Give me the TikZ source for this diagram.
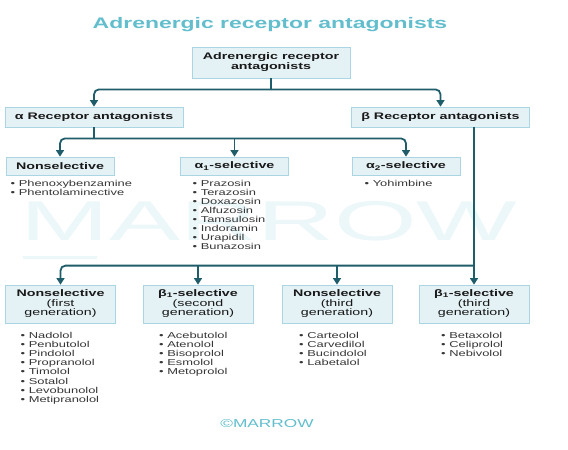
\documentclass[tikz,border=0pt]{standalone}
\usepackage{fontspec}
\setmainfont{Liberation Sans}[FakeStretch=1.5]
\newfontfamily\marrowmarkfont{Liberation Sans}[FakeStretch=1.9]
\usepackage{tikz}
\usetikzlibrary{arrows.meta}
\definecolor{MarrowTeal}{RGB}{32, 93, 106}
\definecolor{MarrowFill}{RGB}{228, 242, 246}
\definecolor{MarrowEdge}{RGB}{170, 213, 226}
\definecolor{MarrowTitle}{RGB}{98, 190, 205}
\definecolor{MarrowMark}{RGB}{236, 247, 250}
\definecolor{MarrowInk}{RGB}{25, 25, 25}
\definecolor{MarrowGrey}{RGB}{55, 55, 55}
\newcommand{\boxfont}{\fontsize{9.5}{9.5}\selectfont}
\newcommand{\drugfont}{\fontsize{8.6}{9.1}\selectfont}

\begin{document}
\begin{tikzpicture}[x=1pt, y=-1pt,
    catbox/.style={draw=MarrowEdge, line width=0.8pt, fill=MarrowFill, text=MarrowInk, font=\boxfont, inner sep=1pt},
    topbox/.style={catbox, minimum width=158pt, minimum height=31pt},
    headbox/.style={catbox, minimum width=178pt, minimum height=20pt},
    subbox/.style={catbox, minimum width=108pt, minimum height=18pt},
    genbox/.style={catbox, minimum width=110pt, minimum height=38pt},
    druglist/.style={anchor=north west, inner sep=0pt, font=\drugfont, text=MarrowGrey},
    link/.style={draw=MarrowTeal, line width=1.8pt, rounded corners=5pt},
    flow/.style={link, -{Triangle[width=8pt,length=6.5pt]}}]
    \useasboundingbox[fill=white] (0,0) rectangle (568,450);

    % Watermark
    \node[font=\marrowmarkfont\fontsize{56}{60}\selectfont, text=MarrowMark, anchor=base, inner sep=0pt] (mark) at (269,240) {MARROW};
    \fill[MarrowMark] (23,255.5) rectangle (97,258.5);

    % Title
    \node[font=\fontsize{15.3}{17}\selectfont\bfseries, text=MarrowTitle, anchor=base, inner sep=0pt] (title) at (270,28.5) {Adrenergic receptor antagonists};

    % Root
    \node[topbox] (top) at (271,62.5) {
      \begin{tabular}{c}
        \textbf{Adrenergic receptor}\\
        \textbf{antagonists}
      \end{tabular}
    };

    % Alpha and beta
    \node[headbox] (alpha) at (94,117) {\textbf{α Receptor antagonists}};
    \node[headbox] (beta) at (440.5,117) {\textbf{β Receptor antagonists}};

    % Alpha groups
    \node[subbox] (nonsel) at (60,166) {\textbf{Nonselective}};
    \node[subbox] (alphaone) at (234.5,166) {\textbf{α\textsubscript{1}-selective}};
    \node[subbox] (alphatwo) at (406,166) {\textbf{α\textsubscript{2}-selective}};

    \node[druglist] (nonsellist) at (10.5,179.5) {
      \begin{tabular}{@{}l@{}}
        • Phenoxybenzamine\\
        • Phentolaminective
      \end{tabular}
    };
    \node[druglist] (alphaonelist) at (192.5,179.5) {
      \begin{tabular}{@{}l@{}}
        • Prazosin\\
        • Terazosin\\
        • Doxazosin\\
        • Alfuzosin\\
        • Tamsulosin\\
        • Indoramin\\
        • Urapidil\\
        • Bunazosin
      \end{tabular}
    };
    \node[druglist] (alphatwolist) at (364.5,179.5) {
      \begin{tabular}{@{}l@{}}
        • Yohimbine
      \end{tabular}
    };

    % Beta groups
    \node[genbox] (b1) at (60.5,304) {
      \begin{tabular}{c}
        \textbf{Nonselective}\\
        (first\\
        generation)
      \end{tabular}
    };
    \node[genbox] (b2) at (198,304) {
      \begin{tabular}{c}
        \textbf{β\textsubscript{1}-selective}\\
        (second\\
        generation)
      \end{tabular}
    };
    \node[genbox] (b3) at (337,304) {
      \begin{tabular}{c}
        \textbf{Nonselective}\\
        (third\\
        generation)
      \end{tabular}
    };
    \node[genbox] (b4) at (474,304) {
      \begin{tabular}{c}
        \textbf{β\textsubscript{1}-selective}\\
        (third\\
        generation)
      \end{tabular}
    };

    \node[druglist] (b1list) at (20.5,332) {
      \begin{tabular}{@{}l@{}}
        • Nadolol\\
        • Penbutolol\\
        • Pindolol\\
        • Propranolol\\
        • Timolol\\
        • Sotalol\\
        • Levobunolol\\
        • Metipranolol
      \end{tabular}
    };
    \node[druglist] (b2list) at (159,332) {
      \begin{tabular}{@{}l@{}}
        • Acebutolol\\
        • Atenolol\\
        • Bisoprolol\\
        • Esmolol\\
        • Metoprolol
      \end{tabular}
    };
    \node[druglist] (b3list) at (299,332) {
      \begin{tabular}{@{}l@{}}
        • Carteolol\\
        • Carvedilol\\
        • Bucindolol\\
        • Labetalol
      \end{tabular}
    };
    \node[druglist] (b4list) at (441,332) {
      \begin{tabular}{@{}l@{}}
        • Betaxolol\\
        • Celiprolol\\
        • Nebivolol
      \end{tabular}
    };

    % Logo
    \node[font=\fontsize{11.5}{12}\selectfont, text=MarrowTitle, anchor=base, inner sep=0pt] (logo) at (267,427) {\textcopyright MARROW};

    % Connectors
    \coordinate (topjoin) at ([yshift=-11pt]top.south);
    \coordinate (alphajoin) at ([yshift=-11pt]alpha.south);
    \coordinate (betajoin) at ([yshift=19pt]b4.north);

    \draw[link] (top.south) -- (topjoin);
    \draw[flow] (topjoin) -| (alpha.north);
    \draw[flow] (topjoin) -| (beta.north);

    \draw[link] (alpha.south) -- (alphajoin);
    \draw[flow] (alphajoin) -| (nonsel.north);
    \draw[flow] (alphaone.north |- alphajoin) -- (alphaone.north);
    \draw[flow] (alphajoin) -| (alphatwo.north);

    \draw[flow] (beta.south -| b4.north) -- (b4.north);
    \draw[flow] (betajoin) -| (b1.north);
    \draw[flow] (b2.north |- betajoin) -- (b2.north);
    \draw[flow] (b3.north |- betajoin) -- (b3.north);
\end{tikzpicture}
\end{document}
